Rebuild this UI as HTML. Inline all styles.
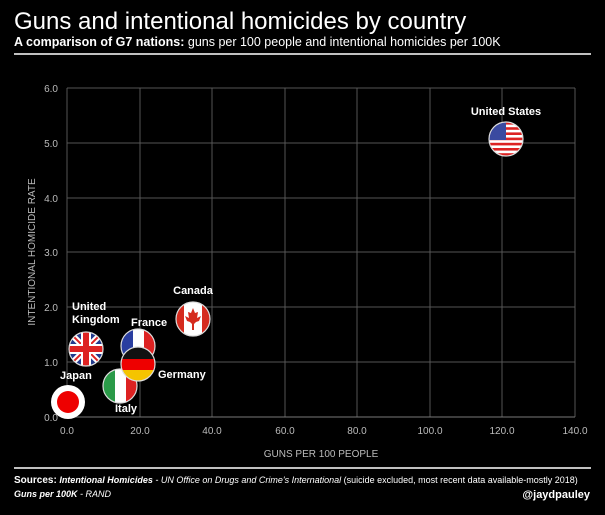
<!DOCTYPE html>
<html><head><meta charset="utf-8"><style>
html,body{margin:0;padding:0;background:#000;}
svg{display:block;font-family:"Liberation Sans",sans-serif;}
</style></head><body>
<svg width="605" height="515" viewBox="0 0 605 515" xmlns="http://www.w3.org/2000/svg">
<rect width="605" height="515" fill="#000"/>
<text x="14" y="29" fill="#fff" font-size="24" font-weight="300">Guns and intentional homicides by country</text>
<text x="14" y="46" fill="#fff" font-size="12.5"><tspan font-weight="bold">A comparison of G7 nations:</tspan> guns per 100 people and intentional homicides per 100K</text>
<line x1="14" y1="54" x2="591" y2="54" stroke="#fff" stroke-width="1.5"/>
<g stroke="#555" stroke-width="1">
<line x1="67" y1="88" x2="575" y2="88"/><line x1="67" y1="143" x2="575" y2="143"/><line x1="67" y1="198" x2="575" y2="198"/><line x1="67" y1="252" x2="575" y2="252"/><line x1="67" y1="307" x2="575" y2="307"/><line x1="67" y1="362" x2="575" y2="362"/>
<line x1="67" y1="88" x2="67" y2="417"/><line x1="140" y1="88" x2="140" y2="417"/><line x1="212" y1="88" x2="212" y2="417"/><line x1="285" y1="88" x2="285" y2="417"/><line x1="357" y1="88" x2="357" y2="417"/><line x1="430" y1="88" x2="430" y2="417"/><line x1="502" y1="88" x2="502" y2="417"/><line x1="575" y1="88" x2="575" y2="417"/>
</g>
<line x1="67" y1="417" x2="575" y2="417" stroke="#777"/>
<g fill="#bbb" font-size="10" text-anchor="end">
<text x="58" y="92">6.0</text><text x="58" y="147">5.0</text><text x="58" y="202">4.0</text><text x="58" y="256">3.0</text><text x="58" y="311">2.0</text><text x="58" y="366">1.0</text><text x="58" y="421">0.0</text>
</g>
<g fill="#bbb" font-size="10" text-anchor="middle">
<text x="67" y="434">0.0</text><text x="140" y="434">20.0</text><text x="212" y="434">40.0</text><text x="285" y="434">60.0</text><text x="357" y="434">80.0</text><text x="430" y="434">100.0</text><text x="502" y="434">120.0</text><text x="575" y="434">140.0</text>
<text x="321" y="457">GUNS PER 100 PEOPLE</text>
</g>
<text transform="translate(35,252) rotate(-90)" fill="#bbb" font-size="10" text-anchor="middle">INTENTIONAL HOMICIDE RATE</text>
<defs>
<clipPath id="c1"><circle cx="506" cy="139" r="17"/></clipPath>
<clipPath id="c2"><circle cx="193" cy="319" r="17"/></clipPath>
<clipPath id="c3"><circle cx="86" cy="349" r="17"/></clipPath>
<clipPath id="c4"><circle cx="138" cy="346" r="17"/></clipPath>
<clipPath id="c5"><circle cx="138" cy="364" r="17"/></clipPath>
<clipPath id="c6"><circle cx="120" cy="386" r="17"/></clipPath>
</defs>
<!-- US -->
<g clip-path="url(#c1)">
<rect x="489" y="122" width="34" height="34" fill="#fff"/>
<g fill="#d22">
<rect x="489" y="122" width="34" height="2.6"/><rect x="489" y="127.2" width="34" height="2.6"/><rect x="489" y="132.4" width="34" height="2.6"/><rect x="489" y="137.6" width="34" height="2.6"/><rect x="489" y="142.8" width="34" height="2.6"/><rect x="489" y="148" width="34" height="2.6"/><rect x="489" y="153.2" width="34" height="2.6"/>
</g>
<rect x="489" y="122" width="17" height="18" fill="#3a4aa0"/>
</g>
<circle cx="506" cy="139" r="17" fill="none" stroke="#ddd" stroke-width="1.2"/>
<!-- Canada -->
<g clip-path="url(#c2)">
<rect x="176" y="302" width="34" height="34" fill="#fff"/>
<rect x="176" y="302" width="8" height="34" fill="#d52b1e"/><rect x="202" y="302" width="8" height="34" fill="#d52b1e"/>
<polygon points="193,308 195,313 198,312 197,318 201,316 199,321 196,322 194,324 194,330 192,330 192,324 190,322 187,321 185,316 189,318 188,312 191,313" fill="#d52b1e"/>
</g>
<circle cx="193" cy="319" r="17" fill="none" stroke="#ddd" stroke-width="1.2"/>
<!-- UK -->
<g clip-path="url(#c3)">
<rect x="69" y="332" width="34" height="34" fill="#233a8c"/>
<line x1="69" y1="332" x2="103" y2="366" stroke="#fff" stroke-width="6"/><line x1="103" y1="332" x2="69" y2="366" stroke="#fff" stroke-width="6"/>
<line x1="69" y1="332" x2="103" y2="366" stroke="#d22" stroke-width="2"/><line x1="103" y1="332" x2="69" y2="366" stroke="#d22" stroke-width="2"/>
<rect x="69" y="344" width="34" height="10" fill="#fff"/><rect x="81" y="332" width="10" height="34" fill="#fff"/>
<rect x="69" y="346" width="34" height="6" fill="#d22"/><rect x="83" y="332" width="6" height="34" fill="#d22"/>
</g>
<circle cx="86" cy="349" r="17" fill="none" stroke="#ddd" stroke-width="1.2"/>
<!-- France -->
<g clip-path="url(#c4)">
<rect x="121" y="329" width="12" height="34" fill="#2a3ea0"/><rect x="133" y="329" width="11" height="34" fill="#fff"/><rect x="144" y="329" width="11" height="34" fill="#d22"/>
</g>
<circle cx="138" cy="346" r="17" fill="none" stroke="#ddd" stroke-width="1.2"/>
<!-- Italy -->
<g clip-path="url(#c6)">
<rect x="103" y="369" width="12" height="34" fill="#2a9a48"/><rect x="115" y="369" width="11" height="34" fill="#fff"/><rect x="126" y="369" width="11" height="34" fill="#d22"/>
</g>
<circle cx="120" cy="386" r="17" fill="none" stroke="#ddd" stroke-width="1.2"/>
<!-- Germany -->
<g clip-path="url(#c5)">
<rect x="121" y="347" width="34" height="12" fill="#111"/><rect x="121" y="359" width="34" height="11" fill="#e00"/><rect x="121" y="370" width="34" height="12" fill="#f5c400"/>
</g>
<circle cx="138" cy="364" r="17" fill="none" stroke="#ddd" stroke-width="1.2"/>
<!-- Japan -->
<circle cx="68" cy="402" r="17" fill="#fff"/>
<circle cx="68" cy="402" r="11" fill="#e00"/>
<g fill="#fff" font-size="11" font-weight="bold">
<text x="506" y="115" text-anchor="middle">United States</text>
<text x="193" y="294" text-anchor="middle">Canada</text>
<text x="72" y="310">United</text><text x="72" y="323">Kingdom</text>
<text x="131" y="326">France</text>
<text x="158" y="378">Germany</text>
<text x="60" y="379">Japan</text>
<text x="115" y="412">Italy</text>
</g>
<line x1="14" y1="468" x2="591" y2="468" stroke="#fff" stroke-width="1.5"/>
<text x="14" y="483" fill="#fff" font-size="9"><tspan font-weight="bold" font-size="10">Sources:</tspan> <tspan font-weight="bold" font-style="italic">Intentional Homicides</tspan><tspan font-style="italic"> - UN Office on Drugs and Crime's International</tspan> (suicide excluded, most recent data available-mostly 2018)</text>
<text x="14" y="497" fill="#fff" font-size="9" font-style="italic"><tspan font-weight="bold">Guns per 100K</tspan> - RAND</text>
<text x="590" y="498" fill="#fff" font-size="11" font-weight="bold" text-anchor="end">@jaydpauley</text>
</svg>
</body></html>
